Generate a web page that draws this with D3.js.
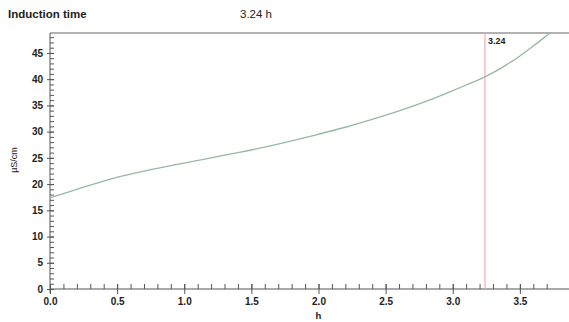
<!DOCTYPE html>
<html>
<head>
<meta charset="utf-8">
<script src="https://cdn.jsdelivr.net/npm/d3@7"></script>
<style>
  body { margin: 0; background: #fff; }
  svg { display: block; font-family: "Liberation Sans", Arial, sans-serif; }
</style>
</head>
<body>
<div id="chart"></div>
<script>
// conductivity curve
const timeH = [0.0, 0.1, 0.2, 0.3, 0.4, 0.5, 0.6, 0.7, 0.8, 0.9, 1.0, 1.2, 1.4, 1.6, 1.8,
               2.0, 2.2, 2.4, 2.6, 2.8, 3.0, 3.1, 3.2, 3.3, 3.4, 3.5, 3.6, 3.7, 3.73];
const conductivity = [17.4, 18.2, 19.0, 19.8, 20.6, 21.3, 21.9, 22.5, 23.0, 23.5, 24.0, 25.0, 26.0, 27.0, 28.2,
                      29.5, 30.8, 32.3, 33.9, 35.7, 37.8, 38.9, 39.9, 41.2, 42.7, 44.4, 46.3, 48.3, 48.9];
const xTicks = [0.0, 0.5, 1.0, 1.5, 2.0, 2.5, 3.0, 3.5];
const yTicks = [0, 5, 10, 15, 20, 25, 30, 35, 40, 45];
const inductionTime = 3.24;

const width = 569, height = 322;
const margin = { top: 33, right: 0, bottom: 33, left: 50 };

const svg = d3.select("#chart").append("svg")
    .attr("width", width)
    .attr("height", height);

const x = d3.scaleLinear().domain([0, 3.866]).range([margin.left, width - margin.right]);
const y = d3.scaleLinear().domain([0, 48.8]).range([height - margin.bottom, margin.top]);

const axisColor = "#555";
const labelColor = "#222";

// ── Header ────────────────────────────────────────────
svg.append("text")
    .attr("x", 8).attr("y", 18)
    .attr("font-size", 11.5).attr("font-weight", "bold")
    .attr("fill", labelColor)
    .text("Induction time");

svg.append("text")
    .attr("x", 240).attr("y", 18)
    .attr("font-size", 11.5)
    .attr("fill", labelColor)
    .text(inductionTime + " h");

// top border
svg.append("line")
    .attr("x1", margin.left).attr("x2", width)
    .attr("y1", margin.top).attr("y2", margin.top)
    .attr("stroke", "#999").attr("stroke-width", 1.5);

// ── Axes ──────────────────────────────────────────────
const g = svg.append("g");

// x minor ticks (inside, upward)
g.append("g")
    .attr("transform", `translate(0,${y(0)})`)
    .call(d3.axisTop(x).tickValues(d3.range(0, 38).map(i => i / 10)).tickSize(5).tickFormat(""))
    .call(a => a.select(".domain").remove())
    .call(a => a.selectAll("line").attr("stroke", axisColor));

// x major ticks + labels
g.append("g")
    .attr("transform", `translate(0,${y(0)})`)
    .call(d3.axisBottom(x).tickValues(xTicks).tickSize(5).tickSizeOuter(0).tickFormat(d3.format(".1f")))
    .call(a => a.select(".domain").attr("stroke", axisColor).attr("d", `M${x(0)},0H${width}`))
    .call(a => a.selectAll("line").attr("stroke", axisColor).attr("y1", -5))
    .call(a => a.selectAll("text")
        .attr("y", 9)
        .attr("font-size", 10).attr("font-weight", "bold")
        .attr("font-family", "Liberation Sans, Arial, sans-serif")
        .attr("fill", labelColor));

// y minor ticks (inside, to the right)
g.append("g")
    .attr("transform", `translate(${x(0)},0)`)
    .call(d3.axisRight(y).tickValues(d3.range(0, 49)).tickSize(4).tickFormat(""))
    .call(a => a.select(".domain").remove())
    .call(a => a.selectAll("line").attr("stroke", axisColor));

// y major ticks + labels
g.append("g")
    .attr("transform", `translate(${x(0)},0)`)
    .call(d3.axisLeft(y).tickValues(yTicks).tickSize(3).tickSizeOuter(0))
    .call(a => a.select(".domain").attr("stroke", axisColor).attr("d", `M0,${y(0) + 4}V${margin.top}`))
    .call(a => a.selectAll("line").attr("stroke", axisColor).attr("x2", -3).attr("x1", 4))
    .call(a => a.selectAll("text")
        .attr("x", -7)
        .attr("font-size", 10).attr("font-weight", "bold")
        .attr("font-family", "Liberation Sans, Arial, sans-serif")
        .attr("fill", labelColor));

// axis titles
svg.append("text")
    .attr("x", x(2.0)).attr("y", 319)
    .attr("text-anchor", "middle")
    .attr("font-size", 9.5).attr("font-weight", "bold")
    .attr("fill", labelColor)
    .text("h");

svg.append("text")
    .attr("transform", `translate(17,160) rotate(-90)`)
    .attr("text-anchor", "middle")
    .attr("font-size", 9)
    .attr("fill", labelColor)
    .text("µS/cm");

// ── Induction time marker ─────────────────────────────
svg.append("line")
    .attr("x1", x(inductionTime)).attr("x2", x(inductionTime))
    .attr("y1", margin.top).attr("y2", y(0))
    .attr("stroke", "#f3a9b4").attr("stroke-width", 1.2);

svg.append("text")
    .attr("x", x(inductionTime) + 3).attr("y", margin.top + 11)
    .attr("font-size", 9).attr("font-weight", "bold")
    .attr("fill", labelColor)
    .text(inductionTime.toFixed(2));

// ── Curve ─────────────────────────────────────────────
const line = d3.line()
    .x((d, i) => x(timeH[i]))
    .y(d => y(d))
    .curve(d3.curveBasis);

svg.append("path")
    .datum(conductivity)
    .attr("d", line)
    .attr("fill", "none")
    .attr("stroke", "#98b8a4")
    .attr("stroke-width", 1.3);
</script>
</body>
</html>
